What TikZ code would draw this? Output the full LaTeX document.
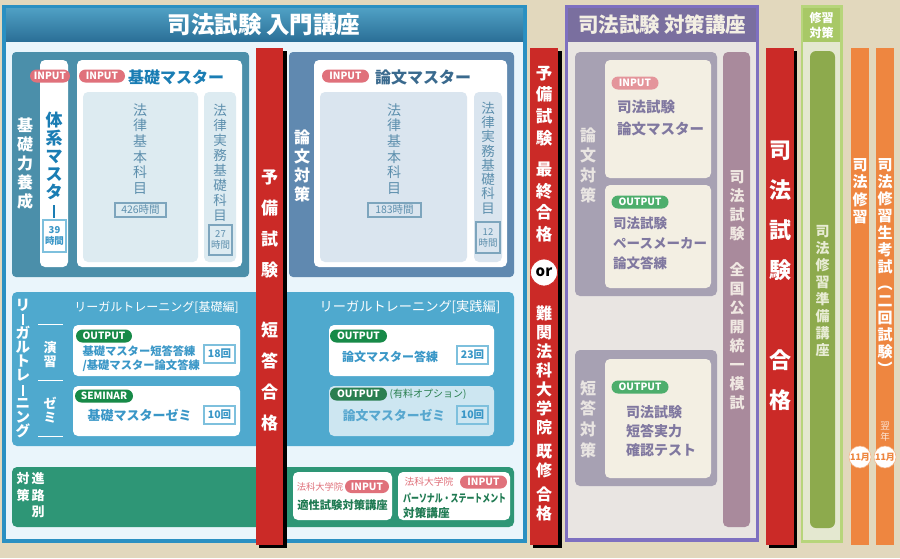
\documentclass[tikz,border=0pt]{standalone}
\usepackage{fontspec}
\setmainfont{Noto Sans CJK JP}
\definecolor{bg}{HTML}{E2D8BD}
\definecolor{lborder}{HTML}{2A90C2}
\definecolor{ltitleA}{HTML}{4FA0C4}
\definecolor{ltitleB}{HTML}{2A6E96}
\definecolor{linner}{HTML}{EAF5FB}
\definecolor{pone}{HTML}{4B8FAA}
\definecolor{ptwo}{HTML}{6089B0}
\definecolor{pinkb}{HTML}{E0717B}
\definecolor{blueT}{HTML}{1A7DB4}
\definecolor{ronT}{HTML}{3A6A8E}
\definecolor{inA}{HTML}{DDEBF1}
\definecolor{inB}{HTML}{DAE5EF}
\definecolor{greyB}{HTML}{5D8FAD}
\definecolor{ltc}{HTML}{4FA9CE}
\definecolor{wbT}{HTML}{3A97C7}
\definecolor{wbL}{HTML}{7EC0DD}
\definecolor{outg}{HTML}{178A48}
\definecolor{outgd}{HTML}{2A7F50}
\definecolor{lightbox}{HTML}{CDE6F1}
\definecolor{gband}{HTML}{2E9676}
\definecolor{gtext}{HTML}{1F7A52}
\definecolor{redb}{HTML}{CB2A27}
\definecolor{pborder}{HTML}{7E70C0}
\definecolor{ptitle}{HTML}{7A6F9F}
\definecolor{pinner}{HTML}{E9E5E2}
\definecolor{pgrey}{HTML}{A7A1B3}
\definecolor{cream}{HTML}{F3EFE3}
\definecolor{ptext}{HTML}{8078A0}
\definecolor{pinkl}{HTML}{E4959B}
\definecolor{outgl}{HTML}{4DAE6C}
\definecolor{mauve}{HTML}{A98A9C}
\definecolor{mauveT}{HTML}{F0E8E2}
\definecolor{gouter}{HTML}{B7D57B}
\definecolor{ghead}{HTML}{A8C866}
\definecolor{ginner}{HTML}{E4E8D0}
\definecolor{gcol}{HTML}{8DAA4D}
\definecolor{gcolT}{HTML}{E8ECD4}
\definecolor{orng}{HTML}{EE8640}
\newcommand{\fsz}[2]{\fontsize{#1}{#2}\selectfont}
\newcommand{\vbar}[2]{\rule[-1pt]{#1}{#2}}
\begin{document}
\begin{tikzpicture}[x=1pt,y=-1pt,
  vt/.style={align=center, inner sep=0pt},
  pill/.style={rounded corners=6.5pt, minimum height=13pt, inner sep=0pt, text=white, font=\bfseries\fsz{10}{10}},
  hbox/.style={draw, line width=1.2pt, inner sep=0pt, align=center},
  redtxt/.style={vt, text=white, font=\bfseries},
  shadowbar/.style={fill=black},
]
\useasboundingbox (0,0) rectangle (900,558);
\fill[bg] (0,0) rectangle (900,558);

%================ LEFT PANEL =================
\fill[lborder] (2,5) rectangle (527,543);
\shade[top color=ltitleA,bottom color=ltitleB] (6,8) rectangle (523,42);
\fill[linner] (6,42) rectangle (523,539);
\node[font=\bfseries\fsz{23.5}{23.5}, text=white] (t1) at (264,25) {司法試験\hspace{5pt}入門講座};

% panel 1
\fill[pone, rounded corners=4pt] (12,52) rectangle (249,277);
\node[vt, text=white, font=\bfseries\fsz{16}{19}] (kiso) at (25,163.5) {基\\礎\\力\\養\\成};
\fill[white, rounded corners=5pt] (40,60) rectangle (68,267);
\fill[white, rounded corners=5pt] (77,60) rectangle (242,267);
\node[pill, fill=pinkb, minimum width=40pt] (in1) at (50,76) {INPUT};
\node[pill, fill=pinkb, minimum width=46pt] (in2) at (102,76) {INPUT};
\node[font=\bfseries\fsz{16}{16}, text=blueT] (kisoM) at (176,77) {基礎マスター};
\node[vt, text=blueT, font=\bfseries\fsz{17}{18}] (taikei) at (54,165) {体\\系\\マ\\ス\\タ\\\vbar{2.2pt}{13pt}};
\node[hbox, draw=wbL, text=wbT, minimum width=23pt, minimum height=32pt, font=\bfseries\fsz{9.5}{11}] (h39) at (54.5,236) {39\\時間};
\fill[inA, rounded corners=5pt] (83,92) rectangle (198,262);
\fill[inA, rounded corners=5pt] (204,92) rectangle (236,262);
\node[vt, text=greyB, font=\fsz{14}{15.6}] (hk1) at (140,149) {法\\律\\基\\本\\科\\目};
\node[hbox, draw=greyB!80, text=greyB, minimum width=51pt, minimum height=14pt, font=\fsz{10.5}{11}] (h426) at (140.5,210) {426時間};
\node[vt, text=greyB, font=\fsz{13.5}{15}] (hj1) at (220,162.5) {法\\律\\実\\務\\基\\礎\\科\\目};
\node[hbox, draw=greyB!80, text=greyB, minimum width=23pt, minimum height=30pt, font=\fsz{9.5}{11}] (h27) at (220.5,240) {27\\時間};

% panel 2
\fill[ptwo, rounded corners=4pt] (289,52) rectangle (514,277);
\node[vt, text=white, font=\bfseries\fsz{16}{19}] (ronbun) at (302,166) {論\\文\\対\\策};
\fill[white, rounded corners=5pt] (314,60) rectangle (507,267);
\node[pill, fill=pinkb, minimum width=47pt] (in3) at (345.5,76) {INPUT};
\node[font=\bfseries\fsz{16}{16}, text=ronT] (ronM) at (423,77) {論文マスター};
\fill[inB, rounded corners=5pt] (320,92) rectangle (467,262);
\fill[inB, rounded corners=5pt] (474,92) rectangle (502,262);
\node[vt, text=greyB, font=\fsz{14}{15.6}] (hk2) at (394,149) {法\\律\\基\\本\\科\\目};
\node[hbox, draw=greyB!80, text=greyB, minimum width=53pt, minimum height=14pt, font=\fsz{10.5}{11}] (h183) at (394.5,210) {183時間};
\node[vt, text=greyB, font=\fsz{13.5}{14.3}] (hj2) at (488,158) {法\\律\\実\\務\\基\\礎\\科\\目};
\node[hbox, draw=greyB!80, text=greyB, minimum width=24pt, minimum height=31pt, font=\fsz{9.5}{11}] (h12) at (488,237.5) {12\\時間};

% legal training
\fill[ltc, rounded corners=5pt] (12,292) rectangle (514,446);
\node[vt, text=white, font=\bfseries\fsz{14.5}{14.1}] (lgl) at (23,368.5) {リ\\\vbar{1.8pt}{11pt}\\ガ\\ル\\ト\\レ\\\vbar{1.8pt}{11pt}\\ニ\\ン\\グ};
\node[vt, text=white, font=\bfseries\fsz{13}{14}] (ens) at (50,355) {演\\習};
\node[vt, text=white, font=\bfseries\fsz{13}{14}] (zemi) at (50,410) {ゼ\\ミ};
\draw[white, line width=1pt] (38,324) -- (63,324);
\draw[white, line width=1pt] (38,380) -- (63,380);
\draw[white, line width=1pt] (38,436) -- (63,436);
\node[text=white, font=\fsz{12}{12}] (lt1) at (156.5,307) {リーガルトレーニング[基礎編]};
\node[text=white, font=\fsz{13.2}{13}] (lt2) at (410,307) {リーガルトレーニング[実践編]};

\fill[white, rounded corners=5pt] (73,325) rectangle (240,376);
\node[pill, fill=outg, minimum width=56pt] (out1) at (104,336) {OUTPUT};
\node[anchor=west, align=left, text=wbT, font=\bfseries\fsz{11.3}{14}] (kt) at (79,359) {基礎マスター短答答練\\/基礎マスター論文答練};
\node[hbox, draw=wbL, text=wbT, minimum width=31pt, minimum height=18pt, font=\bfseries\fsz{10.5}{11}] (k18) at (219.5,354) {18回};

\fill[white, rounded corners=5pt] (73,386) rectangle (240,436);
\node[pill, fill=outg, minimum width=58pt] (sem) at (104,396) {SEMINAR};
\node[text=wbT, font=\bfseries\fsz{13}{13}] (kz) at (139.5,415) {基礎マスターゼミ};
\node[hbox, draw=wbL, text=wbT, minimum width=31pt, minimum height=18pt, font=\bfseries\fsz{10.5}{11}] (k10) at (219.5,415) {10回};

\fill[white, rounded corners=5pt] (329,325) rectangle (494,376);
\node[pill, fill=outg, minimum width=57pt] (out2) at (358.5,336) {OUTPUT};
\node[text=wbT, font=\bfseries\fsz{12}{12}] (rt) at (390,357) {論文マスター答練};
\node[hbox, draw=wbL, text=wbT, minimum width=31pt, minimum height=18pt, font=\bfseries\fsz{10.5}{11}] (r23) at (472.5,355) {23回};

\fill[lightbox, rounded corners=5pt] (329,386) rectangle (494,436);
\node[pill, fill=outgd, minimum width=57pt] (out3) at (358.5,394) {OUTPUT};
\node[text=outgd, font=\fsz{10}{10}] (opt) at (428,394) {(有料オプション)};
\node[text=wbT!85, font=\bfseries\fsz{12.8}{13}] (rz) at (394,416) {論文マスターゼミ};
\node[hbox, draw=wbL, text=wbT, minimum width=31pt, minimum height=18pt, font=\bfseries\fsz{10.5}{11}] (r10) at (472.5,415) {10回};

% green band
\fill[gband, rounded corners=5pt] (12,467) rectangle (514,527);
\node[vt, text=white, font=\bfseries\fsz{13}{16.8}, anchor=north] (taisaku) at (23,472) {対\\策};
\node[vt, text=white, font=\bfseries\fsz{13}{16.8}, anchor=north] (shinro) at (38,472) {進\\路\\別};
\fill[white, rounded corners=5pt] (293,472) rectangle (392,520);
\node[text=pinkb, font=\fsz{9.3}{10}] (hk_a) at (320,487) {法科大学院};
\node[pill, fill=pinkb, minimum width=44pt] (in4) at (367,486.5) {INPUT};
\node[text=gtext, font=\bfseries\fsz{11.3}{12}] (tek) at (342.5,505) {適性試験対策講座};
\fill[white, rounded corners=5pt] (398,472) rectangle (510,520);
\node[text=pinkb, font=\fsz{9.8}{10}] (hk_b) at (429,482) {法科大学院};
\node[pill, fill=pinkb, minimum width=47pt] (in5) at (483.5,482) {INPUT};
\node[anchor=west, text=gtext, font=\bfseries\fsz{11}{12}, inner sep=0pt] (ps) at (403,498) {\scalebox{0.72}[1]{パーソナル・ステートメント}};
\node[anchor=west, text=gtext, font=\bfseries\fsz{11.6}{12}, inner sep=0pt] (psb) at (403,513) {対策講座};

%================ RED BARS =================
\fill[shadowbar] (259,51) rectangle (287,548);
\fill[redb] (256,48) rectangle (283,545);
\node[redtxt, font=\bfseries\fsz{17}{31}] (r1) at (269.5,300) {予\\備\\試\\験\\[29pt]短\\答\\合\\格};

\fill[shadowbar] (533,51) rectangle (562,548);
\fill[redb] (530,48) rectangle (558,545);
\node[redtxt, font=\bfseries\fsz{16.5}{21.6}] (r2a) at (544,154) {予\\備\\試\\験\\[10pt]最\\終\\合\\格};
\node[circle, fill=white, draw=redb, line width=0.8pt, minimum size=27pt, inner sep=0pt, font=\bfseries\fsz{15}{15}, text=black] (orc) at (544,272.5) {or};
\node[redtxt, font=\bfseries\fsz{16}{19}] (r2b) at (544,413.5) {難\\関\\法\\科\\大\\学\\院\\[5pt]既\\修\\[5pt]合\\格};

\fill[shadowbar] (769,51) rectangle (797,548);
\fill[redb] (766,48) rectangle (794,545);
\node[redtxt, font=\bfseries\fsz{22}{40}] (r3) at (780,276) {司\\法\\試\\験\\[50pt]合\\格};

%================ PURPLE PANEL =================
\fill[pborder] (565,5) rectangle (759,542);
\fill[ptitle] (568,8) rectangle (756,42);
\fill[pinner] (568,42) rectangle (756,538);
\node[font=\bfseries\fsz{20.5}{20.5}, text=cream] (t2) at (662,25) {司法試験\hspace{4pt}対策講座};

\fill[pgrey, rounded corners=5pt] (575,52) rectangle (717,296);
\node[vt, text=pinner, font=\bfseries\fsz{16}{20}] (pron) at (588,165) {論\\文\\対\\策};
\fill[cream, rounded corners=5pt] (605,60) rectangle (711,178);
\node[pill, fill=pinkl, minimum width=47pt] (in6) at (635,83) {INPUT};
\node[anchor=north west, align=left, text=ptext, font=\bfseries\fsz{14.5}{22}, inner sep=0pt] (pr1) at (617,100) {司法試験\\論文マスター};
\fill[cream, rounded corners=5pt] (605,185) rectangle (711,288);
\node[pill, fill=outgl, minimum width=57pt] (out4) at (640,202) {OUTPUT};
\node[anchor=north west, align=left, text=ptext, font=\bfseries\fsz{13.5}{20}, inner sep=0pt] (pr2) at (613,217) {司法試験\\ペースメーカー\\論文答練};

\fill[pgrey, rounded corners=5pt] (575,350) rectangle (717,486);
\node[vt, text=pinner, font=\bfseries\fsz{16}{20.7}] (ptan) at (588,419) {短\\答\\対\\策};
\fill[cream, rounded corners=5pt] (605,359) rectangle (711,478);
\node[pill, fill=outgl, minimum width=57pt] (out5) at (640,387) {OUTPUT};
\node[anchor=north west, align=left, text=ptext, font=\bfseries\fsz{14}{19}, inner sep=0pt] (pr3) at (626,405) {司法試験\\短答実力\\確認テスト};

\fill[mauve, rounded corners=5pt] (723,52) rectangle (750,527);
\node[vt, text=mauveT, font=\bfseries\fsz{15}{19}] (moshi) at (737,290) {司\\法\\試\\験\\[17pt]全\\国\\公\\開\\統\\一\\模\\試};

%================ GREEN COLUMN =================
\fill[gouter] (801,5) rectangle (843,543);
\fill[ghead] (803,8) rectangle (840,42);
\fill[ginner] (803,42) rectangle (840,540);
\node[vt, text=white, font=\bfseries\fsz{12}{15}] (shu) at (821.5,25) {修習\\対策};
\fill[gcol, rounded corners=6pt] (810,51) rectangle (835,528);
\node[vt, text=gcolT, font=\bfseries\fsz{14}{17}] (jun) at (822.5,291.5) {司\\法\\修\\習\\準\\備\\講\\座};

%================ ORANGE COLUMNS =================
\fill[orng] (851,48) rectangle (869,545);
\fill[orng] (876,48) rectangle (894,545);
\node[vt, text=white, font=\bfseries\fsz{15}{17.5}] (o1) at (860,191) {司\\法\\修\\習};
\node[vt, text=white, font=\bfseries\fsz{15}{17}] (o2) at (885,267) {司\\法\\修\\習\\生\\考\\試\\︵\\二\\回\\試\\験\\︶};
\node[vt, text=white!80!orng, font=\fsz{9.5}{11}] (yoku) at (885,432) {翌\\年};
\node[circle, fill=white, draw=orng!60, line width=0.6pt, minimum size=22pt, inner sep=0pt, text=orng, font=\bfseries\fsz{9}{9}] (m1) at (860,457) {11月};
\node[circle, fill=white, draw=orng!60, line width=0.6pt, minimum size=22pt, inner sep=0pt, text=orng, font=\bfseries\fsz{9}{9}] (m2) at (885,457) {11月};
\end{tikzpicture}
\end{document}
